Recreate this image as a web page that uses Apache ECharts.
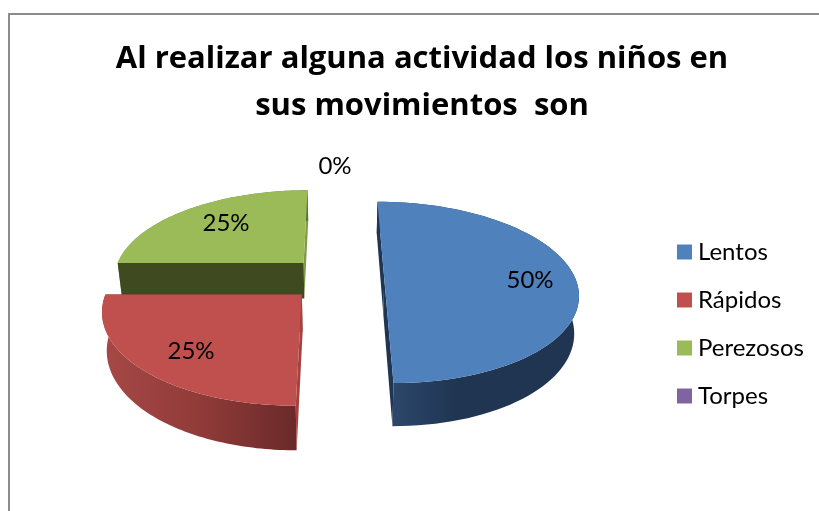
<!DOCTYPE html>
<html>
<head>
<meta charset="utf-8">
<title>Movimientos</title>
<style>
  html, body { margin: 0; padding: 0; background: #fff; }
  #chart { width: 819px; height: 511px; }
</style>
</head>
<body>
<div id="chart"></div>
<script src="https://cdn.jsdelivr.net/npm/echarts@6/dist/echarts.min.js"></script>
<script>
const titleLines = ["Al realizar alguna actividad los niños en", "sus movimientos  son"];
const categories = ["Lentos", "Rápidos", "Perezosos", "Torpes"];
const values = [50, 25, 25, 0];

const topColors = ["#4f81bd", "#c0504d", "#9bbb59", "#8064a2"];
// wall along the slice's starting edge / along its ending edge
const startWallColors = ["#1f3552", "#a3423f", "#3f4a21", "#402f55"];
const endWallColors = ["#1f3552", "#7d2f2d", "#7f9a48", "#604a7b"];
const rimStops = [
  [[0, "#304c72"], [0.4, "#1f3551"], [1, "#1f3552"]],
  [[0, "#a64846"], [0.5, "#913b39"], [1, "#6a2a29"]],
  [[0, "#7f9a48"], [1, "#5f7436"]],
  [[0, "#604a7b"], [1, "#402f55"]],
];
// where the percent label of each slice sits
const labelPos = [[530, 280], [191, 351], [226, 223], [335, 166]];
// draw far slices first so the near ones cover them
const sliceZ = [2, 3, 1, 4];

// perspective of the pie plane, fitted on the slice edges
const horizonY = -291;
const vanishX = 334;
const centerX = 336.5;
const centerH = 569.3;
const radiusX = 191;
const radiusU = 0.000273;
const explode = 0.25;
const depth = 0.064;
const taper = 0.02;
const taperX = 340;

const total = values.reduce((a, b) => a + b, 0);

function project(X, Z) {
  const h = 1 / (1 / centerH + radiusU * Z);
  return [vanishX + (centerX - vanishX + X * radiusX) * (h / centerH), horizonY + h];
}

function drop(p) {
  return [taperX + (p[0] - taperX) * (1 - taper), p[1] + (p[1] - horizonY) * depth];
}

function renderSlice(index) {
  return function (params) {
    const start = values.slice(0, index).reduce((a, b) => a + b, 0) / total * Math.PI * 2;
    const sweep = values[index] / total * Math.PI * 2;
    const text = {
      type: "text",
      z2: 10,
      style: {
        text: Math.round(values[index] / total * 100) + "%",
        x: labelPos[index][0],
        y: labelPos[index][1],
        align: "center",
        verticalAlign: "middle",
        font: "24px Lato",
        fill: "#000",
      },
    };
    if (sweep === 0) {
      return { type: "group", children: [text] };
    }
    const mid = start + sweep / 2;
    const ox = Math.sin(mid) * explode;
    const oz = Math.cos(mid) * explode;
    const apex = project(ox, oz);
    const rim = [];
    for (let i = 0; i <= 80; i++) {
      const a = start + (sweep * i) / 80;
      rim.push(project(ox + Math.sin(a), oz + Math.cos(a)));
    }
    const first = rim[0];
    const last = rim[rim.length - 1];
    const wall = (a, b, fill) => ({
      type: "polygon",
      shape: { points: [a, b, drop(b), drop(a)] },
      style: { fill: fill },
    });
    return {
      type: "group",
      children: [
        wall(apex, last, endWallColors[index]),
        {
          type: "polygon",
          shape: { points: rim.concat(rim.map(drop).reverse()) },
          style: {
            fill: new echarts.graphic.LinearGradient(0, 0, 1, 0,
              rimStops[index].map((s) => ({ offset: s[0], color: s[1] }))),
          },
        },
        wall(apex, first, startWallColors[index]),
        {
          type: "polygon",
          shape: { points: [apex].concat(rim) },
          style: { fill: topColors[index] },
        },
        text,
      ],
    };
  };
}

const chart = echarts.init(document.getElementById("chart"), null, { renderer: "canvas" });
chart.setOption({
  animation: false,
  backgroundColor: "#fff",
  title: {
    text: titleLines.join("\n"),
    left: 417,
    top: 31,
    textAlign: "center",
    textStyle: {
      fontFamily: "Open Sans",
      fontWeight: "bold",
      fontSize: 31,
      lineHeight: 47,
      color: "#000",
    },
  },
  legend: {
    orient: "vertical",
    left: 677,
    top: 240,
    padding: 0,
    itemWidth: 15,
    itemHeight: 15,
    itemGap: 24,
    icon: "rect",
    selectedMode: false,
    data: categories,
    textStyle: {
      fontFamily: "Lato",
      fontSize: 24,
      lineHeight: 15,
      color: "#000",
      padding: [0, 0, 0, 1],
    },
  },
  graphic: [
    {
      type: "polyline",
      shape: { points: [[9, 511], [9, 14], [819, 14]] },
      style: { stroke: "#8c8c8c", lineWidth: 2, fill: null },
      silent: true,
    },
  ],
  series: categories.map((name, i) => ({
    type: "custom",
    name: name,
    coordinateSystem: "none",
    z: sliceZ[i],
    itemStyle: { color: topColors[i] },
    data: [values[i]],
    renderItem: renderSlice(i),
  })),
});

window.addEventListener("resize", () => chart.resize());
</script>
</body>
</html>
